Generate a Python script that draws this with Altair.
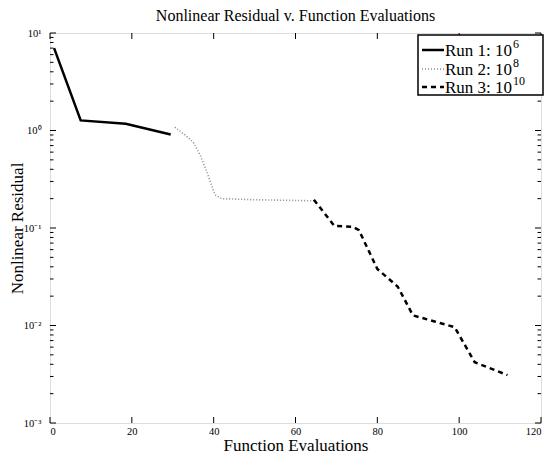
import altair as alt
import pandas as pd
import math

# ---- data ----
run1_x = [1, 7.5, 18.5, 29.5]
run1_y = [7.0, 1.27, 1.17, 0.91]
run2_x = [30.5, 33, 35, 36.7, 38.5, 40.3, 42, 50, 64.5]
run2_y = [1.08, 0.9, 0.76, 0.56, 0.36, 0.22, 0.2, 0.195, 0.19]
run3_x = [64.5, 69.5, 74, 75.5, 80, 85, 88.7, 94, 98.9, 103.8, 111.8]
run3_y = [0.195, 0.105, 0.103, 0.095, 0.038, 0.025, 0.0127, 0.011, 0.0096, 0.0042, 0.0031]

x_ticks = [0, 20, 40, 60, 80, 100, 120]
y_major = [0.001, 0.01, 0.1, 1, 10]
y_major_labels = ["10⁻³", "10⁻²", "10⁻¹", "10⁰", "10¹"]
y_minor = [m * 10.0 ** e for e in range(-3, 1) for m in range(2, 10)]

legend_labels = ["Run 1: 10", "Run 2: 10", "Run 3: 10"]
legend_exps = ["6", "8", "10"]

title_text = "Nonlinear Residual v. Function Evaluations"
x_title = "Function Evaluations"
y_title = "Nonlinear Residual"

# ---- layout ----
W, H = 491, 390
FONT = "Liberation Serif"

def frame(xs, ys):
    return pd.DataFrame({"x": xs, "y": ys, "i": range(len(xs))})

xscale = alt.Scale(domain=[0, 120], nice=False, zero=False)
yscale = alt.Scale(type="log", domain=[0.001, 10], nice=False)

label_expr = " : ".join(
    f"abs(log(datum.value)/LN10 - ({round(math.log10(v))})) < 0.01 ? '{t}'"
    for v, t in zip(y_major, y_major_labels)
) + " : ''"

x_axis = alt.Axis(values=x_ticks, ticks=False, domain=False, grid=False,
                  labelFont=FONT, labelFontSize=10.5, labelPadding=3, labelColor="black",
                  title=x_title, titleFont=FONT, titleFontSize=17, titleFontWeight="normal",
                  titleColor="black", titleY=22, titleBaseline="middle")
y_axis = alt.Axis(values=y_major, ticks=False, domain=False, grid=False,
                  labelExpr=label_expr, labelFont=FONT, labelFontSize=10.5, labelPadding=9,
                  labelColor="black",
                  title=y_title, titleFont=FONT, titleFontSize=17, titleFontWeight="normal",
                  titleColor="black", titleX=-33, titleY=H / 2, titleBaseline="middle")

X = alt.X("x:Q", scale=xscale, axis=x_axis)
Y = alt.Y("y:Q", scale=yscale, axis=y_axis)

line1 = alt.Chart(frame(run1_x, run1_y)).mark_line(color="black", strokeWidth=2.5).encode(
    x=X, y=Y, order="i:Q")
line2 = alt.Chart(frame(run2_x, run2_y)).mark_line(
    color="#8a8a8a", strokeWidth=1.6, strokeDash=[1, 2]).encode(
    x=alt.X("x:Q", scale=xscale), y=alt.Y("y:Q", scale=yscale), order="i:Q")
line3 = alt.Chart(frame(run3_x, run3_y)).mark_line(
    color="black", strokeWidth=2.5, strokeDash=[5, 4]).encode(
    x=alt.X("x:Q", scale=xscale), y=alt.Y("y:Q", scale=yscale), order="i:Q")

# inward ticks
xt = pd.DataFrame({"x": x_ticks})
ymaj = pd.DataFrame({"y": y_major})
ymin = pd.DataFrame({"y": y_minor})
tick_style = dict(color="black", strokeWidth=1)
xs = alt.X("x:Q", scale=xscale)
ys = alt.Y("y:Q", scale=yscale)
ticks = [
    alt.Chart(xt).mark_rule(**tick_style).encode(x=xs, y=alt.value(H), y2=alt.value(H - 6)),
    alt.Chart(xt).mark_rule(**tick_style).encode(x=xs, y=alt.value(0), y2=alt.value(6)),
    alt.Chart(ymaj).mark_rule(**tick_style).encode(y=ys, x=alt.value(0), x2=alt.value(6)),
    alt.Chart(ymaj).mark_rule(**tick_style).encode(y=ys, x=alt.value(W), x2=alt.value(W - 6)),
    alt.Chart(ymin).mark_rule(**tick_style).encode(y=ys, x=alt.value(0), x2=alt.value(3.5)),
    alt.Chart(ymin).mark_rule(**tick_style).encode(y=ys, x=alt.value(W), x2=alt.value(W - 3.5)),
]

# legend (drawn by hand)
LX0, LX1, LY0, LY1 = 368, 493, 2, 62
one = pd.DataFrame({"k": [0]})
leg_box = alt.Chart(one).mark_rect(fill="white", stroke="black", strokeWidth=1.5).encode(
    x=alt.value(LX0), x2=alt.value(LX1), y=alt.value(LY0), y2=alt.value(LY1))
row_y = [14, 33, 51]
styles = [dict(color="black", strokeWidth=2.5),
          dict(color="#8a8a8a", strokeWidth=1.6, strokeDash=[1, 2]),
          dict(color="black", strokeWidth=2.5, strokeDash=[5, 4])]
leg_layers = [leg_box]
for ry, st, lab, ex in zip(row_y, styles, legend_labels, legend_exps):
    leg_layers.append(alt.Chart(one).mark_rule(**st).encode(
        x=alt.value(LX0 + 4), x2=alt.value(LX0 + 26), y=alt.value(ry + 3)))
    leg_layers.append(alt.Chart(one).mark_text(
        text=lab, font=FONT, fontSize=17, align="left", baseline="alphabetic", color="black").encode(
        x=alt.value(LX0 + 27), y=alt.value(ry + 9)))
    leg_layers.append(alt.Chart(one).mark_text(
        text=ex, font=FONT, fontSize=12, align="left", baseline="alphabetic", color="black").encode(
        x=alt.value(LX0 + 95), y=alt.value(ry + 1)))

chart = alt.layer(line1, line2, line3, *ticks, *leg_layers).properties(
    width=W, height=H,
    autosize=alt.AutoSizeParams(type="none"),
    padding={"left": 42, "top": 25, "right": 8, "bottom": 31},
    title=alt.Title(title_text, font=FONT, fontSize=16, fontWeight="normal", color="black",
                    anchor="middle", offset=4),
).configure_view(stroke="black", strokeWidth=1.5).configure(background="white")

chart.save("out.html", embed_options={"renderer": "svg", "actions": False})
